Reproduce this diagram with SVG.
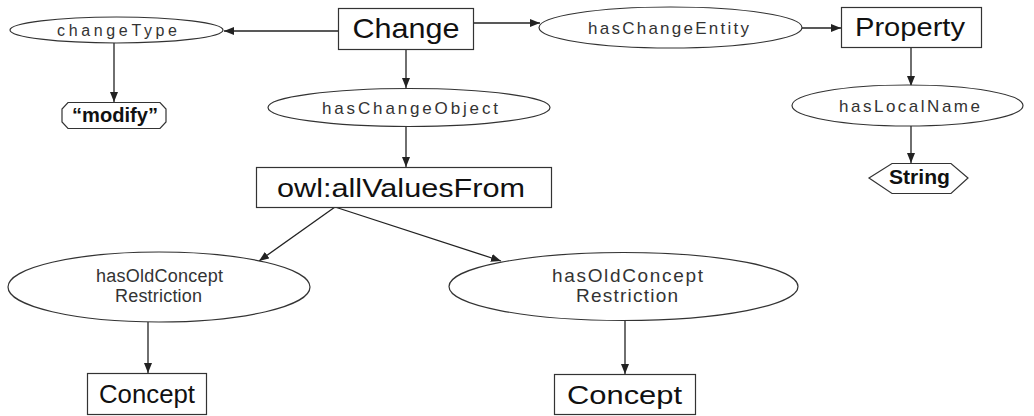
<svg xmlns="http://www.w3.org/2000/svg" width="1034" height="416" viewBox="0 0 1034 416">
<style>
.shape{fill:#fff;stroke:#333;stroke-width:1.2}
.lbl{font-family:"Liberation Sans",Arial,sans-serif;fill:#222;text-anchor:middle}
.big{font-size:26px;fill:#111}
.sm{font-size:17px;fill:#333}
.mid{font-size:18px;fill:#333}
.bold{font-size:20px;font-weight:bold;fill:#111}
.edge{stroke:#222;stroke-width:1.3;fill:none;marker-end:url(#ah)}
</style>
<defs>
<marker id="ah" viewBox="0 0 10 8" refX="10" refY="4" markerWidth="10" markerHeight="8" markerUnits="userSpaceOnUse" orient="auto">
<path d="M0,0 L10,4 L0,8 Z" fill="#222"/>
</marker>
</defs>
<rect width="1034" height="416" fill="#fff"/>
<g id="connectors">
<line class="edge" x1="338" y1="31" x2="224" y2="31"/>
<line class="edge" x1="114" y1="43" x2="114" y2="102"/>
<line class="edge" x1="406" y1="49" x2="406" y2="88"/>
<line class="edge" x1="406" y1="126" x2="406" y2="167"/>
<line class="edge" x1="473" y1="23" x2="540" y2="23"/>
<line class="edge" x1="802" y1="28" x2="841" y2="28"/>
<line class="edge" x1="911" y1="47" x2="911" y2="86"/>
<line class="edge" x1="911" y1="126" x2="911" y2="163"/>
<line class="edge" x1="335" y1="207" x2="259" y2="261"/>
<line class="edge" x1="335" y1="207" x2="501" y2="261"/>
<line class="edge" x1="148" y1="322" x2="148" y2="373"/>
<line class="edge" x1="625" y1="321" x2="625" y2="374"/>
</g>
<g id="change">
<rect class="shape" x="338.5" y="8.5" width="135" height="41"/>
<text class="lbl big" x="406" y="38" textLength="107" lengthAdjust="spacingAndGlyphs" style="font-size:28px">Change</text>
</g>
<g id="changeType">
<ellipse class="shape" cx="116.5" cy="30" rx="106.5" ry="13"/>
<text class="lbl sm" x="117" y="35.5" textLength="120" lengthAdjust="spacing" style="font-size:16px">changeType</text>
</g>
<g id="modify">
<polygon class="shape" points="68,102.5 160,102.5 166,109 166,122 160,128.5 68,128.5 62,122 62,109"/>
<text class="lbl bold" x="115" y="122" textLength="86" lengthAdjust="spacingAndGlyphs">“modify”</text>
</g>
<g id="hasChangeObject">
<ellipse class="shape" cx="409" cy="107.5" rx="141" ry="19"/>
<text class="lbl sm" x="410" y="114" textLength="176" lengthAdjust="spacing">hasChangeObject</text>
</g>
<g id="allValuesFrom">
<rect class="shape" x="256.5" y="167.5" width="295" height="40"/>
<text class="lbl big" x="401" y="197" textLength="248" lengthAdjust="spacingAndGlyphs">owl:allValuesFrom</text>
</g>
<g id="hasChangeEntity">
<ellipse class="shape" cx="670.5" cy="27.5" rx="131.5" ry="20.5"/>
<text class="lbl sm" x="668.5" y="33.5" textLength="161" lengthAdjust="spacing">hasChangeEntity</text>
</g>
<g id="property">
<rect class="shape" x="841.5" y="7.5" width="140" height="40"/>
<text class="lbl big" x="910" y="36" textLength="110" lengthAdjust="spacingAndGlyphs">Property</text>
</g>
<g id="hasLocalName">
<ellipse class="shape" cx="907.5" cy="105.5" rx="115.5" ry="20.5"/>
<text class="lbl sm" x="909.5" y="112" textLength="141" lengthAdjust="spacing">hasLocalName</text>
</g>
<g id="string">
<polygon class="shape" points="869,178 892,163.5 951,163.5 968,178 951,193.5 892,193.5"/>
<text class="lbl bold" x="919.5" y="184" textLength="61" lengthAdjust="spacingAndGlyphs" style="font-size:21px">String</text>
</g>
<g id="restrictionLeft">
<ellipse class="shape" cx="159" cy="287" rx="151" ry="35"/>
<text class="lbl mid" x="159.5" y="282" textLength="127" lengthAdjust="spacing">hasOldConcept</text>
<text class="lbl mid" x="158.5" y="302" textLength="87" lengthAdjust="spacing">Restriction</text>
</g>
<g id="restrictionRight">
<ellipse class="shape" cx="623.5" cy="286.5" rx="174.5" ry="34"/>
<text class="lbl mid" x="627.5" y="282" textLength="151" lengthAdjust="spacing" style="font-size:19px">hasOldConcept</text>
<text class="lbl mid" x="627" y="302" textLength="102" lengthAdjust="spacing" style="font-size:19px">Restriction</text>
</g>
<g id="conceptLeft">
<rect class="shape" x="87.5" y="373.5" width="119" height="41"/>
<text class="lbl big" x="147" y="403" textLength="96" lengthAdjust="spacingAndGlyphs">Concept</text>
</g>
<g id="conceptRight">
<rect class="shape" x="554.5" y="374.5" width="141" height="40"/>
<text class="lbl big" x="624.5" y="404" textLength="115" lengthAdjust="spacingAndGlyphs">Concept</text>
</g>
</svg>
